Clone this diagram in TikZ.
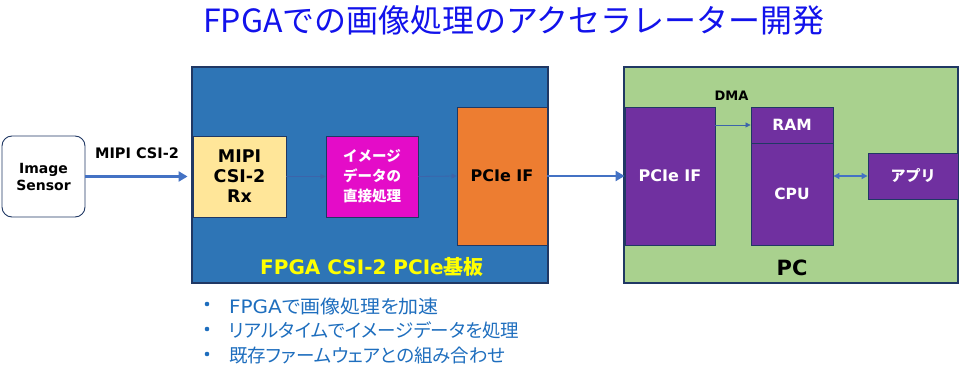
\documentclass[tikz,border=0pt]{standalone}
\usepackage{fontspec}
\setmainfont{Noto Sans CJK JP}
\newfontfamily\lat{DejaVu Sans}
\newfontfamily\jpp[RawFeature=+palt]{Noto Sans CJK JP}
\usetikzlibrary{arrows.meta}
\definecolor{titleblue}{RGB}{18,18,235}
\definecolor{fpgablue}{RGB}{46,117,182}
\definecolor{edgedark}{RGB}{32,56,100}
\definecolor{rxyellow}{RGB}{255,230,153}
\definecolor{procmag}{RGB}{228,12,200}
\definecolor{pcieorange}{RGB}{237,125,49}
\definecolor{pcgreen}{RGB}{169,209,142}
\definecolor{pcpurple}{RGB}{112,48,160}
\definecolor{arrowblue}{RGB}{68,114,196}
\definecolor{thinblue}{RGB}{60,100,170}
\definecolor{bulletblue}{RGB}{30,110,190}
\definecolor{labelyellow}{RGB}{255,255,0}
\tikzset{
  box/.style={draw=edgedark, line width=0.9pt, inner sep=0pt, align=center},
  bigarrow/.style={draw=arrowblue, line width=2.6pt, -{Triangle[length=9pt,width=10pt]}},
  thinarrow/.style={draw=thinblue, line width=0.8pt, -{Triangle[length=5pt,width=5pt]}},
  lbl/.style={inner sep=0pt, align=center},
  bul/.style={inner sep=0pt, anchor=west, text=bulletblue, font=\jpp\fontsize{18.5}{22}\selectfont},
  dot/.style={circle, inner sep=0pt, minimum size=4.6pt, fill=bulletblue}
}
\begin{document}
\begin{tikzpicture}[x=1pt,y=-1pt]
\useasboundingbox (0,0) rectangle (980,371);
% title
\node[lbl, text=titleblue, font=\fontsize{32}{35}\selectfont] (title) at (514,20) {FPGAでの画像処理のアクセラレーター開発};
% containers
\node[box, line width=1.8pt, fill=fpgablue, minimum width=356pt, minimum height=216pt] (fpga) at (370,175) {};
\node[box, line width=1.8pt, fill=pcgreen, minimum width=334pt, minimum height=216pt] (pc) at (791,175) {};
% sensor
\node[box, fill=white, rounded corners=10pt, minimum width=83pt, minimum height=81pt, font=\lat\bfseries\fontsize{14}{17}\selectfont] (sensor) at (43.5,176.5) {Image\\Sensor};
% FPGA blocks
\node[box, fill=rxyellow, minimum width=93pt, minimum height=81pt, font=\lat\bfseries\fontsize{17.5}{20}\selectfont] (rx) at (239.5,176.5) {MIPI\\CSI-2\\Rx};
\node[box, fill=procmag, text=white, minimum width=92pt, minimum height=81pt, font=\bfseries\fontsize{14.5}{20}\selectfont] (proc) at (372,176.5) {イメージ\\データの\\直接処理};
\node[box, fill=pcieorange, minimum width=90pt, minimum height=138pt, font=\lat\bfseries\fontsize{16}{19}\selectfont] (pcie1) at (502,176) {PCIe IF};
% PC blocks
\node[box, fill=pcpurple, text=white, minimum width=90pt, minimum height=138pt, font=\lat\bfseries\fontsize{16}{19}\selectfont] (pcie2) at (670,176) {PCIe IF};
\node[box, fill=pcpurple, text=white, minimum width=82pt, minimum height=36pt, font=\lat\bfseries\fontsize{15.5}{18}\selectfont] (ram) at (792,125) {RAM};
\node[box, fill=pcpurple, text=white, minimum width=82pt, minimum height=102pt, font=\lat\bfseries\fontsize{15.5}{18}\selectfont] (cpu) at (792,194) {CPU};
\node[box, fill=pcpurple, text=white, minimum width=90pt, minimum height=46pt, font=\bfseries\fontsize{15}{18}\selectfont] (app) at (913,176) {アプリ};
% labels
\node[lbl, font=\lat\bfseries\fontsize{14.5}{17}\selectfont] (mipilbl) at (137,153) {MIPI CSI-2};
\node[lbl, font=\lat\bfseries\fontsize{13}{15}\selectfont] (dmalbl) at (731.5,96) {DMA};
\node[lbl, text=labelyellow, font=\bfseries\fontsize{20}{22}\selectfont] (fpgalbl) at (372,267) {{\lat FPGA CSI-2 PCIe}基板};
\node[lbl, font=\lat\bfseries\fontsize{21}{24}\selectfont] (pclbl) at (792,268) {PC};
% arrows
\draw[bigarrow] (sensor.east) -- ([xshift=-5pt]rx.west);
\draw[thinarrow] (rx.east) -- (proc.west);
\draw[thinarrow] (proc.east) -- (pcie1.west);
\draw[bigarrow] (pcie1.east) -- (pcie2.west);
\draw[thinarrow] (pcie2.east |- ram.west) -- (ram.west);
\draw[draw=arrowblue, line width=1.2pt, {Triangle[length=6pt,width=6pt]}-{Triangle[length=6pt,width=6pt]}] (cpu.east |- app.west) -- (app.west);
% bullets
\node[dot] (b1) at (207,304) {};
\node[dot] (b2) at (207,329) {};
\node[dot] (b3) at (207,354) {};
\node[bul] (t1) at (229,306) {\scalebox{1.08}[1]{{\lat FPGA}で画像処理を加速}};
\node[bul] (t2) at (229,330) {リアルタイムでイメージデータを処理};
\node[bul] (t3) at (229,355) {既存ファームウェアとの組み合わせ};
\end{tikzpicture}
\end{document}
